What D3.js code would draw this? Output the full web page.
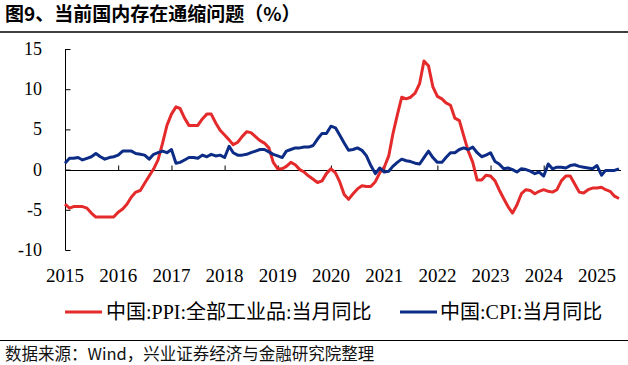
<!DOCTYPE html>
<html><head><meta charset="utf-8">
<script src="https://cdn.jsdelivr.net/npm/d3@7"></script>
<style>
html,body{margin:0;padding:0;background:#fff;}
svg{display:block;}
</style></head>
<body>
<svg id="c" width="628" height="365"></svg>
<script>
const years = [2015,2016,2017,2018,2019,2020,2021,2022,2023,2024,2025];
const yTicks = [15,10,5,0,-5,-10];
const seriesNames = ["中国:PPI:全部工业品:当月同比","中国:CPI:当月同比"];
const ppi = [
-4.3,-4.8,-4.6,-4.6,-4.6,-4.8,-5.4,-5.9,-5.9,-5.9,-5.9,-5.9,
-5.3,-4.9,-4.3,-3.4,-2.8,-2.6,-1.7,-0.8,0.1,1.2,3.3,5.5,
6.9,7.8,7.6,6.4,5.5,5.5,5.5,6.3,6.9,6.9,5.8,4.9,
4.3,3.7,3.1,3.4,4.1,4.7,4.6,4.1,3.6,3.3,2.7,0.9,
0.1,0.1,0.4,0.9,0.6,0.0,-0.3,-0.8,-1.2,-1.6,-1.4,-0.5,
0.1,-0.4,-1.5,-3.1,-3.7,-3.0,-2.4,-2.0,-2.1,-2.1,-1.5,-0.4,
0.3,1.7,4.4,6.8,9.0,8.8,9.0,9.5,10.7,13.5,12.9,10.3,
9.1,8.8,8.3,8.0,6.4,6.1,4.2,2.3,0.9,-1.3,-1.3,-0.7,
-0.8,-1.4,-2.5,-3.6,-4.6,-5.4,-4.4,-3.0,-2.5,-2.6,-3.0,-2.7,
-2.5,-2.7,-2.8,-2.5,-1.4,-0.8,-0.8,-1.8,-2.8,-2.9,-2.5,-2.3,
-2.3,-2.2,-2.5,-2.7,-3.3,-3.6
];
const cpi = [
0.8,1.4,1.4,1.5,1.2,1.4,1.6,2.0,1.6,1.3,1.5,1.6,
1.8,2.3,2.3,2.3,2.0,1.9,1.8,1.3,1.9,2.1,2.3,2.1,
2.5,0.8,0.9,1.2,1.5,1.5,1.4,1.8,1.6,1.9,1.7,1.8,
1.5,2.9,2.1,1.8,1.8,1.9,2.1,2.3,2.5,2.5,2.2,1.9,
1.7,1.5,2.3,2.5,2.7,2.7,2.8,2.8,3.0,3.8,4.5,4.5,
5.4,5.2,4.3,3.3,2.4,2.5,2.7,2.4,1.7,0.5,-0.5,0.2,
-0.3,-0.2,0.4,0.9,1.3,1.1,1.0,0.8,0.7,1.5,2.3,1.5,
0.9,0.9,1.5,2.1,2.1,2.5,2.7,2.5,2.8,2.1,1.6,1.8,
2.1,1.0,0.7,0.1,0.2,0.0,-0.3,0.1,0.0,-0.2,-0.5,-0.3,
-0.8,0.7,0.1,0.3,0.3,0.2,0.5,0.6,0.4,0.3,0.2,0.1,
0.5,-0.7,-0.1,-0.1,-0.1,0.1
];
const colors = ["#E42A2A","#0C2C86"];

const svg = d3.select("#c");
const dates = ppi.map((d,i)=>new Date(2015, i, 1));
const x = d3.scaleTime().domain([new Date(2015,0,1), new Date(2025,0,1)]).range([65, 597]);
const y = d3.scaleLinear().domain([-10,15]).range([250,49]);

// title
svg.append("text").attr("x",5).attr("y",21).attr("font-family","'Noto Sans CJK SC'").attr("font-weight","bold")
  .attr("font-size",19).attr("fill","#000").text("图9、当前国内存在通缩问题（%）");
svg.append("line").attr("x1",0).attr("x2",628).attr("y1",32).attr("y2",32).attr("stroke","#000").attr("stroke-width",1.5);

// y axis
const yAxis = d3.axisRight(y).tickValues(yTicks).tickSize(5).tickFormat("");
const gy = svg.append("g").attr("transform","translate(65,0)").call(yAxis);
gy.select(".domain").attr("d","M0.5,49V250.5").attr("stroke","#000");
gy.selectAll(".tick line").attr("stroke","#000").attr("transform","translate(0.5,0)");
svg.append("g").selectAll("text").data(yTicks).join("text")
  .attr("x",42).attr("y",d=>y(d)+6).attr("text-anchor","end")
  .attr("font-family","'Liberation Serif'").attr("font-size",18).attr("fill","#000")
  .text(d=>d);

// x axis at zero
const xAxis = d3.axisTop(x).tickValues(years.slice(1).map(yr=>new Date(yr,0,1))).tickSize(5).tickFormat("");
const gx = svg.append("g").attr("transform",`translate(0,${Math.round(y(0))+0.5})`).call(xAxis);
gx.select(".domain").attr("d","M65,0H621").attr("stroke","#000");
gx.selectAll(".tick line").attr("stroke","#000");
svg.append("g").selectAll("text").data(years).join("text")
  .attr("x",d=>x(new Date(d,0,1))).attr("y",282).attr("text-anchor","middle")
  .attr("font-family","'Liberation Serif'").attr("font-size",19).attr("fill","#000")
  .text(d=>d);

// lines
const line = d3.line().x((d,i)=>x(dates[i])).y(d=>y(d));
[ppi,cpi].forEach((s,k)=>{
  svg.append("path").datum(s).attr("d",line).attr("fill","none")
    .attr("stroke",colors[k]).attr("stroke-width",3).attr("stroke-linejoin","round");
});

// legend
const leg = [{x1:65,x2:102,tx:106},{x1:400,x2:437,tx:440}];
leg.forEach((l,k)=>{
  svg.append("line").attr("x1",l.x1).attr("x2",l.x2).attr("y1",312).attr("y2",312)
    .attr("stroke",colors[k]).attr("stroke-width",3);
  svg.append("text").attr("x",l.tx).attr("y",319).attr("font-family","'Liberation Serif','Noto Sans CJK SC'")
    .attr("font-size",20).attr("fill","#000").text(seriesNames[k]);
});

// footer
svg.append("line").attr("x1",0).attr("x2",628).attr("y1",340.5).attr("y2",340.5).attr("stroke","#000").attr("stroke-width",1.2);
svg.append("text").attr("x",5).attr("y",360).attr("font-family","'Noto Sans CJK SC'")
  .attr("font-size",16.5).attr("fill","#111").text("数据来源：Wind，兴业证券经济与金融研究院整理");
</script>
</body></html>
